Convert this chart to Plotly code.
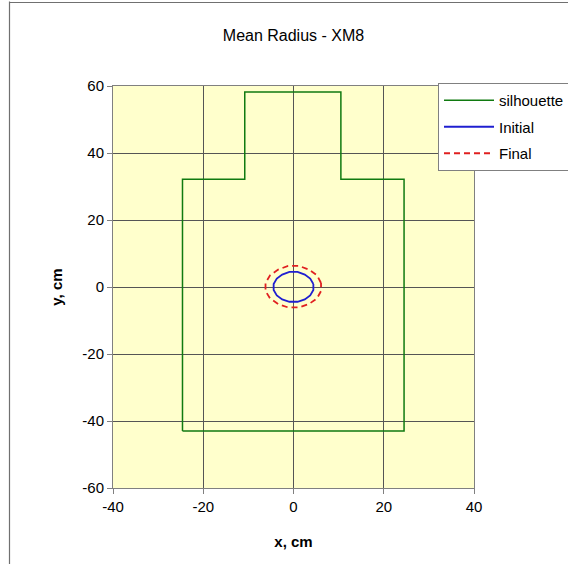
import plotly.graph_objects as go

# Silhouette outline (cm)
sil_x = [-24.6, -24.6, -10.8, -10.8, 10.5, 10.5, 24.5, 24.5, -24.6]
sil_y = [-43.0, 32.2, 32.2, 58.2, 58.2, 32.2, 32.2, -43.0, -43.0]

# Initial mean-radius contour (cm)
init_x = [4.4, 3.7, 2.5, 0.9, -0.9, -2.5, -3.7, -4.4, -4.4, -3.7, -2.5, -0.9, 0.9, 2.5, 3.7, 4.4, 4.4]
init_y = [0.9, 2.5, 3.7, 4.5, 4.5, 3.7, 2.5, 0.9, -0.9, -2.5, -3.7, -4.4, -4.4, -3.7, -2.5, -0.9, 0.9]

# Final mean-radius contour (cm)
final_x = [6.1, 5.2, 3.4, 1.2, -1.2, -3.4, -5.2, -6.2, -6.2, -5.2, -3.4, -1.2, 1.2, 3.4, 5.2, 6.1, 6.1]
final_y = [1.2, 3.5, 5.2, 6.3, 6.3, 5.2, 3.5, 1.2, -1.2, -3.4, -5.1, -6.1, -6.1, -5.1, -3.4, -1.2, 1.2]

x_ticks = [-40, -20, 0, 20, 40]
x_tick_labels = ["-40", "-20", "0", "20", "40"]
y_ticks = [-60, -40, -20, 0, 20, 40, 60]
y_tick_labels = ["-60", "-40", "-20", "0", "20", "40", "60"]

W, H = 568, 564
L, R, T, B = 113, 474, 86, 488

fig = go.Figure()
fig.add_trace(go.Scatter(x=sil_x, y=sil_y, mode="lines", name="silhouette", legendgroup="a",
                         line=dict(color="#107a10", width=1.5)))
fig.add_trace(go.Scatter(x=init_x, y=init_y, mode="lines", name="Initial", legendgroup="b",
                         line=dict(color="#1f1fd0", width=1.8)))
fig.add_trace(go.Scatter(x=final_x, y=final_y, mode="lines", name="Final", legendgroup="c",
                         line=dict(color="#e02020", width=1.8, dash="6px,4px")))

font = "Liberation Sans, Arial, sans-serif"
axis_common = dict(showgrid=True, gridcolor="#555555", gridwidth=1, zeroline=False,
                   showline=True, linecolor="#808080", linewidth=1, mirror=True,
                   ticks="outside", ticklen=5, tickcolor="#808080",
                   tickfont=dict(family=font, size=15, color="black"))

fig.update_layout(
    width=W, height=H,
    margin=dict(l=L, r=W - R, t=T, b=H - B, autoexpand=False),
    paper_bgcolor="white", plot_bgcolor="#FFFFCC",
    title=dict(text="Mean Radius - XM8", x=0.5, xref="paper", y=1 - 35 / H,
               yref="container", xanchor="center", yanchor="middle",
               font=dict(family=font, size=16, color="black")),
    xaxis=dict(range=[-40, 40], tickvals=x_ticks, ticktext=x_tick_labels,
               title=dict(text="<b>x, cm</b>", font=dict(family=font, size=15, color="black"),
                          standoff=22),
               **axis_common),
    yaxis=dict(range=[-60, 60], tickvals=y_ticks, ticktext=y_tick_labels,
               title=dict(text="<b>y, cm</b>", font=dict(family=font, size=15, color="black"),
                          standoff=16),
               **axis_common),
    legend=dict(x=(438 - L) / (R - L), y=1 + (T - 83) / (B - T), xanchor="left", yanchor="top",
                bgcolor="white", bordercolor="#808080", borderwidth=1,
                font=dict(family=font, size=15, color="black"),
                tracegroupgap=4, itemwidth=50),
    showlegend=True,
)

# outer chart border (left and top edges; right/bottom lie beyond the window)
px_x = lambda p: (p - L) / (R - L)
px_y = lambda p: (B - p) / (B - T)
fig.add_shape(type="line", xref="paper", yref="paper",
              x0=px_x(9.5), x1=px_x(9.5), y0=px_y(570), y1=px_y(1.5),
              line=dict(color="#707070", width=1.2), layer="above")
fig.add_shape(type="line", xref="paper", yref="paper",
              x0=px_x(9.5), x1=px_x(570), y0=px_y(2.5), y1=px_y(2.5),
              line=dict(color="#707070", width=1.2), layer="above")

fig.write_html(
    "out.html",
    config={"displayModeBar": False},
    post_script="document.body.style.margin='0';document.body.style.overflow='hidden';",
)
